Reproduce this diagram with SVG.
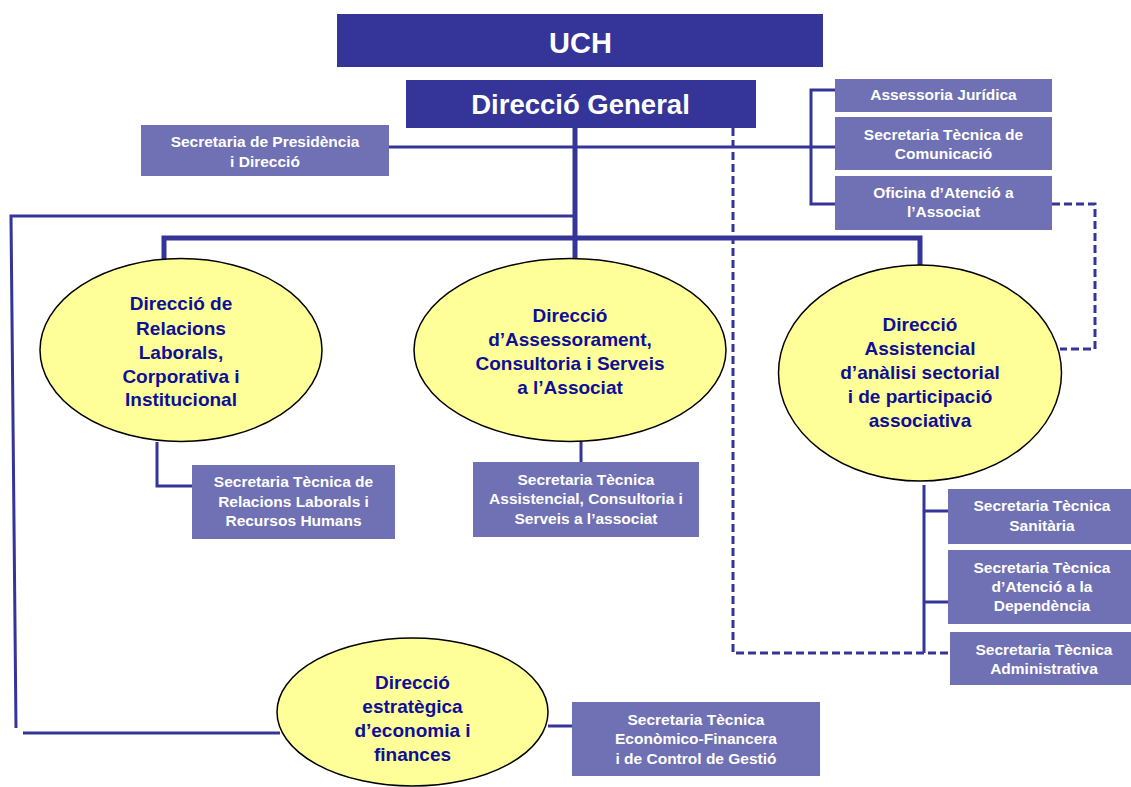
<svg xmlns="http://www.w3.org/2000/svg" width="1131" height="787" viewBox="0 0 1131 787">
<style>
.dark{fill:#343499}
.box{fill:#7070B4}
.ell{fill:#FFFF99;stroke:#000;stroke-width:1.5}
.tw{fill:#fff;font-family:"Liberation Sans",Arial,sans-serif;font-weight:bold;text-anchor:middle}
.tb{font-size:15.5px}
.te{fill:#0E0E96;font-family:"Liberation Sans",Arial,sans-serif;font-weight:bold;font-size:19px;text-anchor:middle}
.thick{stroke:#343499;stroke-width:5;fill:none}
.thin{stroke:#343499;stroke-width:3;fill:none}
.dash{stroke:#343499;stroke-width:3;fill:none;stroke-dasharray:8,4}
</style>
<rect width="1131" height="787" fill="#fff"/>
<g id="connectors">
  <path class="thin" d="M389,147 H835"/>
  <path class="thin" d="M835,90 H811 V204 H835"/>
  <path class="thick" d="M575,128 V259"/>
  <path class="thick" d="M164,259 V238 H920 V265"/>
  <path class="thin" d="M575,216 H11 L16,728"/>
  <path class="thin" d="M23,733 H280"/>
  <path class="thin" d="M548,726 H572"/>
  <path class="dash" d="M733,128 V653 H950"/>
  <path class="dash" d="M1052,204 H1095 V349 H1060"/>
  <path class="thin" d="M157,442 V486 H192"/>
  <path class="thin" d="M581,440 V462"/>
  <path class="thin" d="M924,485 V653"/>
  <path class="thin" d="M924,511 H948 M924,602 H948"/>
</g>
<g id="uch">
  <rect class="dark" x="337" y="14" width="486" height="53"/>
  <text class="tw" x="580.5" y="53" font-size="29">UCH</text>
</g>
<g id="direccio-general">
  <rect class="dark" x="406" y="80" width="350" height="48"/>
  <text class="tw" x="580.5" y="114" font-size="27.5">Direcció General</text>
</g>
<g id="secretaria-presidencia">
  <rect class="box" x="141" y="125" width="248" height="51"/>
  <text class="tw tb"><tspan x="265" y="147">Secretaria de Presidència</tspan><tspan x="265" y="167">i Direcció</tspan></text>
</g>
<g id="assessoria-juridica">
  <rect class="box" x="835" y="79" width="217" height="33"/>
  <text class="tw tb" x="943.5" y="100">Assessoria Jurídica</text>
</g>
<g id="st-comunicacio">
  <rect class="box" x="835" y="117" width="217" height="53"/>
  <text class="tw tb"><tspan x="943.5" y="140">Secretaria  Tècnica de</tspan><tspan x="943.5" y="159">Comunicació</tspan></text>
</g>
<g id="oficina-atencio">
  <rect class="box" x="835" y="176" width="217" height="54"/>
  <text class="tw tb"><tspan x="943.5" y="198">Oficina d’Atenció a</tspan><tspan x="943.5" y="217">l’Associat</tspan></text>
</g>
<g id="dir-relacions">
  <ellipse class="ell" cx="181" cy="350" rx="141" ry="91.5"/>
  <text class="te"><tspan x="181" y="310">Direcció  de</tspan><tspan x="181" y="335">Relacions</tspan><tspan x="181" y="359">Laborals,</tspan><tspan x="181" y="383">Corporativa  i</tspan><tspan x="181" y="406">Institucional</tspan></text>
</g>
<g id="dir-assessorament">
  <ellipse class="ell" cx="570" cy="350" rx="156" ry="91.5"/>
  <text class="te"><tspan x="570" y="322">Direcció</tspan><tspan x="570" y="346">d’Assessorament,</tspan><tspan x="570" y="370">Consultoria i Serveis</tspan><tspan x="570" y="394">a l’Associat</tspan></text>
</g>
<g id="dir-assistencial">
  <ellipse class="ell" cx="920" cy="373" rx="141.5" ry="108"/>
  <text class="te"><tspan x="920" y="331">Direcció</tspan><tspan x="920" y="355">Assistencial</tspan><tspan x="920" y="379">d’anàlisi sectorial</tspan><tspan x="920" y="403">i de participació</tspan><tspan x="920" y="427">associativa</tspan></text>
</g>
<g id="dir-estrategica">
  <ellipse class="ell" cx="412.5" cy="712" rx="135.5" ry="74"/>
  <text class="te"><tspan x="412.5" y="689">Direcció</tspan><tspan x="412.5" y="713">estratègica</tspan><tspan x="412.5" y="737">d’economia  i</tspan><tspan x="412.5" y="761">finances</tspan></text>
</g>
<g id="st-relacions">
  <rect class="box" x="192" y="465" width="203" height="74"/>
  <text class="tw tb"><tspan x="293.5" y="487">Secretaria Tècnica de</tspan><tspan x="293.5" y="507">Relacions Laborals i</tspan><tspan x="293.5" y="526">Recursos Humans</tspan></text>
</g>
<g id="st-assistencial">
  <rect class="box" x="473" y="462" width="226" height="75"/>
  <text class="tw tb"><tspan x="586" y="485">Secretaria Tècnica</tspan><tspan x="586" y="504">Assistencial, Consultoria i</tspan><tspan x="586" y="524">Serveis a l’associat</tspan></text>
</g>
<g id="st-sanitaria">
  <rect class="box" x="948" y="489" width="183" height="55"/>
  <text class="tw tb"><tspan x="1042" y="511">Secretaria  Tècnica</tspan><tspan x="1042" y="531">Sanitària</tspan></text>
</g>
<g id="st-dependencia">
  <rect class="box" x="948" y="550" width="183" height="74"/>
  <text class="tw tb"><tspan x="1042" y="573">Secretaria Tècnica</tspan><tspan x="1042" y="592">d’Atenció a la</tspan><tspan x="1042" y="611">Dependència</tspan></text>
</g>
<g id="st-administrativa">
  <rect class="box" x="950" y="632" width="181" height="53"/>
  <text class="tw tb"><tspan x="1044" y="655">Secretaria  Tècnica</tspan><tspan x="1044" y="674">Administrativa</tspan></text>
</g>
<g id="st-economico">
  <rect class="box" x="572" y="702" width="248" height="74"/>
  <text class="tw tb"><tspan x="696" y="725">Secretaria Tècnica</tspan><tspan x="696" y="744">Econòmico-Financera</tspan><tspan x="696" y="764">i de Control de Gestió</tspan></text>
</g>
</svg>
